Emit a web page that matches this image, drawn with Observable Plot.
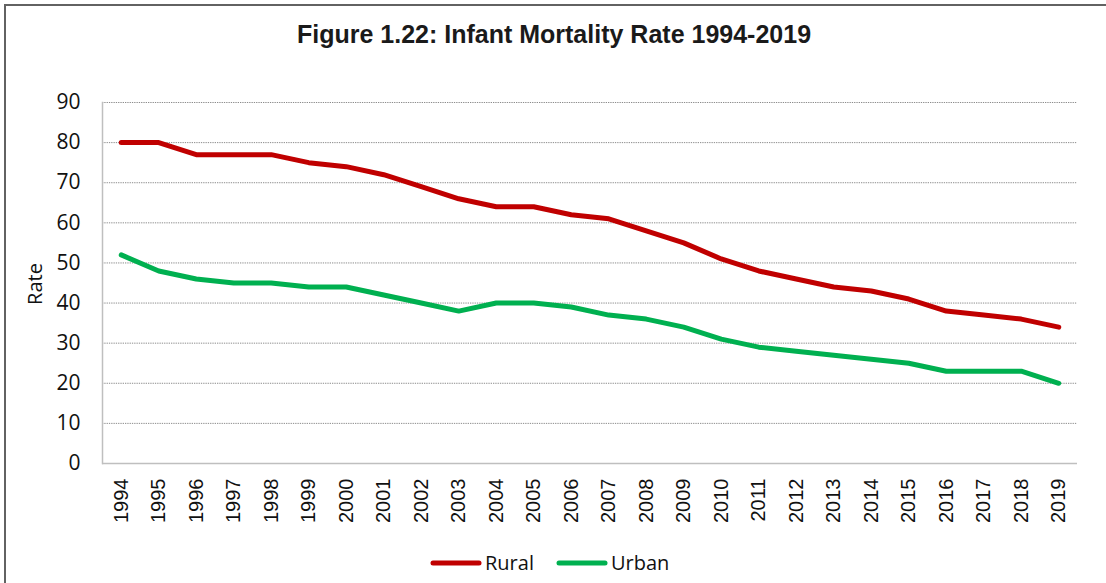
<!DOCTYPE html>
<html>
<head>
<meta charset="utf-8">
<script src="https://cdn.jsdelivr.net/npm/d3@7"></script>
<script src="https://cdn.jsdelivr.net/npm/@observablehq/plot@0.6"></script>
<style>
  html, body { margin: 0; padding: 0; background: #fff; }
  #wrap { position: relative; width: 1106px; height: 583px; overflow: hidden; background: #fff; }
  #border { position: absolute; left: 4px; top: 4px; width: 1200px; height: 700px; border-left: 2px solid #626262; border-top: 2px solid #626262; }
  #title { position: absolute; left: 0; top: 19px; width: 1108px; text-align: center; font-family: "Liberation Sans Narrow", "Arial Narrow", "Liberation Sans", sans-serif; font-weight: bold; font-size: 25px; line-height: 30px; color: #1a1a1a; }
  #chart { position: absolute; left: 0; top: 70px; }
  #ylabel { position: absolute; left: 35px; top: 284px; transform: translate(-50%, -50%) rotate(-90deg); font-family: "Open Sans", sans-serif; font-size: 20px; line-height: 24px; color: #111; white-space: nowrap; }
  #legend { position: absolute; left: 429px; top: 549px; display: flex; align-items: center; font-family: "Open Sans", sans-serif; font-size: 20px; color: #111; }
  #legend .item { display: flex; align-items: center; margin-right: 21px; }
  #legend svg { display: block; margin-right: 2px; }
</style>
</head>
<body>
<div id="wrap">
  <div id="border"></div>
  <div id="title">Figure 1.22: Infant Mortality Rate 1994-2019</div>
  <div id="chart"></div>
  <div id="ylabel">Rate</div>
  <div id="legend"></div>
</div>
<script>
const years = ["1994","1995","1996","1997","1998","1999","2000","2001","2002","2003","2004","2005","2006","2007","2008","2009","2010","2011","2012","2013","2014","2015","2016","2017","2018","2019"];
const rural = [80,80,77,77,77,75,74,72,69,66,64,64,62,61,58,55,51,48,46,44,43,41,38,37,36,34];
const urban = [52,48,46,45,45,44,44,42,40,38,40,40,39,37,36,34,31,29,28,27,26,25,23,23,23,20];
const seriesNames = ["Rural", "Urban"];
const seriesColors = ["#C00000", "#00B050"];
const yTicks = [0,10,20,30,40,50,60,70,80,90];

const data = years.flatMap((y, i) => [
  {year: y, series: "Rural", value: rural[i]},
  {year: y, series: "Urban", value: urban[i]}
]);

const chart = Plot.plot({
  width: 1106,
  height: 470,
  marginTop: 32,
  marginLeft: 102,
  marginRight: 29,
  marginBottom: 77,
  style: {fontFamily: "Open Sans, sans-serif", fontSize: "20px", background: "transparent", color: "#111"},
  x: {type: "point", domain: years, padding: 0.5, round: false},
  y: {domain: [0, 90]},
  color: {domain: seriesNames, range: seriesColors},
  marks: [
    Plot.ruleY(yTicks.filter(d => d > 0), {stroke: "#8c8c8c", strokeWidth: 1, strokeDasharray: "1.3,1"}),
    Plot.axisY({ticks: yTicks, tickSize: 0, tickPadding: 22, fontSize: 21, label: null}),
    Plot.axisX({tickRotate: -90, tickSize: 0, tickPadding: 15, label: null, fontFamily: "Liberation Sans, Arial, sans-serif", fontSize: 20}),
    Plot.ruleY([0], {stroke: "#bfbfbf", strokeWidth: 1.5}),
    Plot.frame({anchor: "left", stroke: "#bfbfbf", strokeWidth: 1.5}),
    Plot.line(data, {x: "year", y: "value", z: "series", stroke: "series", strokeWidth: 5, strokeLinecap: "round", strokeLinejoin: "round"})
  ]
});
document.getElementById("chart").appendChild(chart);

const legend = document.getElementById("legend");
seriesNames.forEach((name, i) => {
  const item = document.createElement("div");
  item.className = "item";
  item.innerHTML = `<svg width="54" height="10"><line x1="4" y1="5" x2="50" y2="5" stroke="${seriesColors[i]}" stroke-width="5" stroke-linecap="round"/></svg><span>${name}</span>`;
  legend.appendChild(item);
});
</script>
</body>
</html>
